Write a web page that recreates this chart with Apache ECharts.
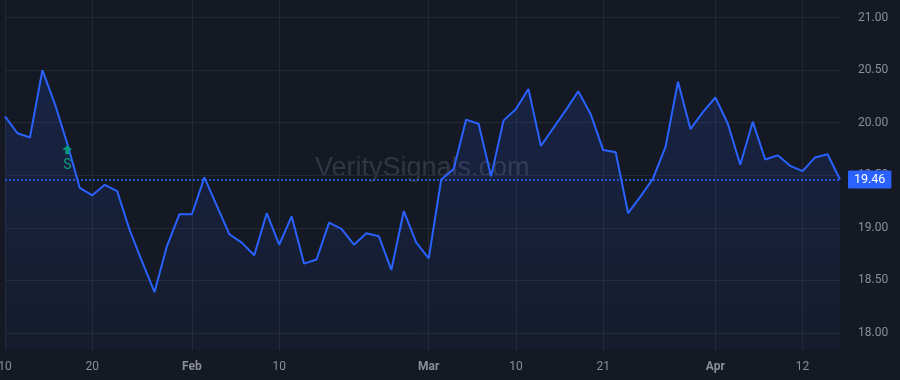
<!DOCTYPE html>
<html><head><meta charset="utf-8">
<script src="https://cdn.jsdelivr.net/npm/echarts@6/dist/echarts.min.js"></script>
<style>html,body{margin:0;padding:0;background:#151924;}#c{width:900px;height:380px;}</style>
</head><body><div id="c"></div>
<script>
const dates = [
 '2022-01-10','2022-01-11','2022-01-12','2022-01-13','2022-01-14','2022-01-18','2022-01-19','2022-01-20','2022-01-21','2022-01-24','2022-01-25','2022-01-26','2022-01-27','2022-01-28','2022-01-31',
 '2022-02-01','2022-02-02','2022-02-03','2022-02-04','2022-02-07','2022-02-08','2022-02-09','2022-02-10','2022-02-11','2022-02-14','2022-02-15','2022-02-16','2022-02-17','2022-02-18','2022-02-22','2022-02-23','2022-02-24','2022-02-25','2022-02-28',
 '2022-03-01','2022-03-02','2022-03-03','2022-03-04','2022-03-07','2022-03-08','2022-03-09','2022-03-10','2022-03-11','2022-03-14','2022-03-15','2022-03-16','2022-03-17','2022-03-18','2022-03-21','2022-03-22','2022-03-23','2022-03-24','2022-03-25','2022-03-28','2022-03-29','2022-03-30','2022-03-31',
 '2022-04-01','2022-04-04','2022-04-05','2022-04-06','2022-04-07','2022-04-08','2022-04-11','2022-04-12','2022-04-13','2022-04-14','2022-04-18'
];
const closes = [
 20.06,19.90,19.86,20.50,20.18,19.80,19.38,19.31,19.41,19.35,18.98,18.68,18.39,18.83,19.13,
 19.13,19.48,19.21,18.94,18.86,18.74,19.14,18.84,19.11,18.66,18.70,19.05,18.99,18.84,18.95,18.92,18.60,19.16,18.86,
 18.71,19.46,19.56,20.03,19.99,19.49,20.02,20.13,20.32,19.78,19.95,20.12,20.30,20.08,19.74,19.72,19.14,19.30,19.47,19.77,20.39,19.94,20.10,
 20.24,19.99,19.60,20.01,19.65,19.69,19.59,19.54,19.67,19.70,19.46
];
const tickLabels = {
 '2022-01-10':'10','2022-01-20':'20','2022-02-01':'Feb','2022-02-10':'10',
 '2022-03-01':'Mar','2022-03-10':'10','2022-03-21':'21','2022-04-01':'Apr','2022-04-12':'12'
};
const monthNames = ['Feb','Mar','Apr'];
const yTicks = [18.0,18.5,19.0,19.5,20.0,20.5,21.0];
const lastPrice = 19.46;
const signalDate = '2022-01-18';
const signalText = 'S';
const watermark = 'VeritySignals.com';

const chart = echarts.init(document.getElementById('c'));
const isTick = (i) => tickLabels[dates[i]] !== undefined;
const sigIdx = dates.indexOf(signalDate);
const dashStyle = {color: '#2962ff', type: [2,2], width: 1.5, opacity: 1};

chart.setOption({
  backgroundColor: '#151924',
  animation: false,
  grid: {left: 5, right: 60, top: 0, height: 350, outerBoundsMode: 'none', containLabel: false},
  graphic: [{
    type: 'text', left: 315, top: 155, z: 0, silent: true,
    style: {text: watermark, fontSize: 27, fontFamily: 'Liberation Sans, Arial, sans-serif', fill: 'rgba(135,140,155,0.26)'}
  }],
  xAxis: {
    type: 'category', data: dates, boundaryGap: false,
    axisLine: {show: false}, axisTick: {show: false},
    splitLine: {show: true, interval: (i) => isTick(i), lineStyle: {color: '#242833', width: 1}},
    axisLabel: {
      interval: (i) => isTick(i), margin: 11,
      color: '#8a8e99', fontSize: 12, fontFamily: 'Roboto, sans-serif',
      formatter: (v) => {
        const t = tickLabels[v] || '';
        return monthNames.includes(t) ? '{m|' + t + '}' : t;
      },
      rich: {m: {fontWeight: 'bold', color: '#8a8e99', fontSize: 12, fontFamily: 'Roboto, sans-serif'}}
    }
  },
  yAxis: {
    type: 'value', position: 'right', min: 17.839, max: 21.167, scale: true,
    axisLine: {show: false},
    axisTick: {show: false, customValues: yTicks},
    splitLine: {show: true, lineStyle: {color: '#242833', width: 1}},
    axisLabel: {
      customValues: yTicks, margin: 18, color: '#8a8e99', fontSize: 12, fontFamily: 'Roboto, sans-serif',
      formatter: (v) => v.toFixed(2)
    }
  },
  series: [{
    type: 'line', data: closes, symbol: 'none', z: 3,
    lineStyle: {color: '#2962ff', width: 2},
    areaStyle: {color: new echarts.graphic.LinearGradient(0,0,0,1,[
      {offset: 0, color: 'rgba(41,98,255,0.22)'},
      {offset: 1, color: 'rgba(41,98,255,0.06)'}
    ])},
    markLine: {
      silent: true, symbol: ['none','none'], z: 5,
      lineStyle: dashStyle,
      emphasis: {disabled: true},
      label: {show: true, position: 'end', distance: 8, formatter: lastPrice.toFixed(2),
        backgroundColor: '#2962ff', color: '#ffffff', padding: [3,6,2,6], fontSize: 12.5,
        fontFamily: 'Roboto, sans-serif', borderRadius: 1},
      data: [{yAxis: lastPrice, lineStyle: dashStyle, itemStyle: {color: '#2962ff'}}]
    },
    markPoint: {
      silent: true,
      data: [{
        coord: [sigIdx, closes[sigIdx]],
        symbol: 'path://M5,0 L10,5 L7,5 L7,10 L3,10 L3,5 L0,5 Z',
        symbolSize: [10, 9], symbolOffset: [0, 6],
        itemStyle: {color: '#089981'},
        label: {show: true, position: 'bottom', distance: 4, formatter: signalText, color: '#089981', fontSize: 14, fontFamily: 'Roboto, sans-serif'}
      }]
    }
  }]
});
</script></body></html>
